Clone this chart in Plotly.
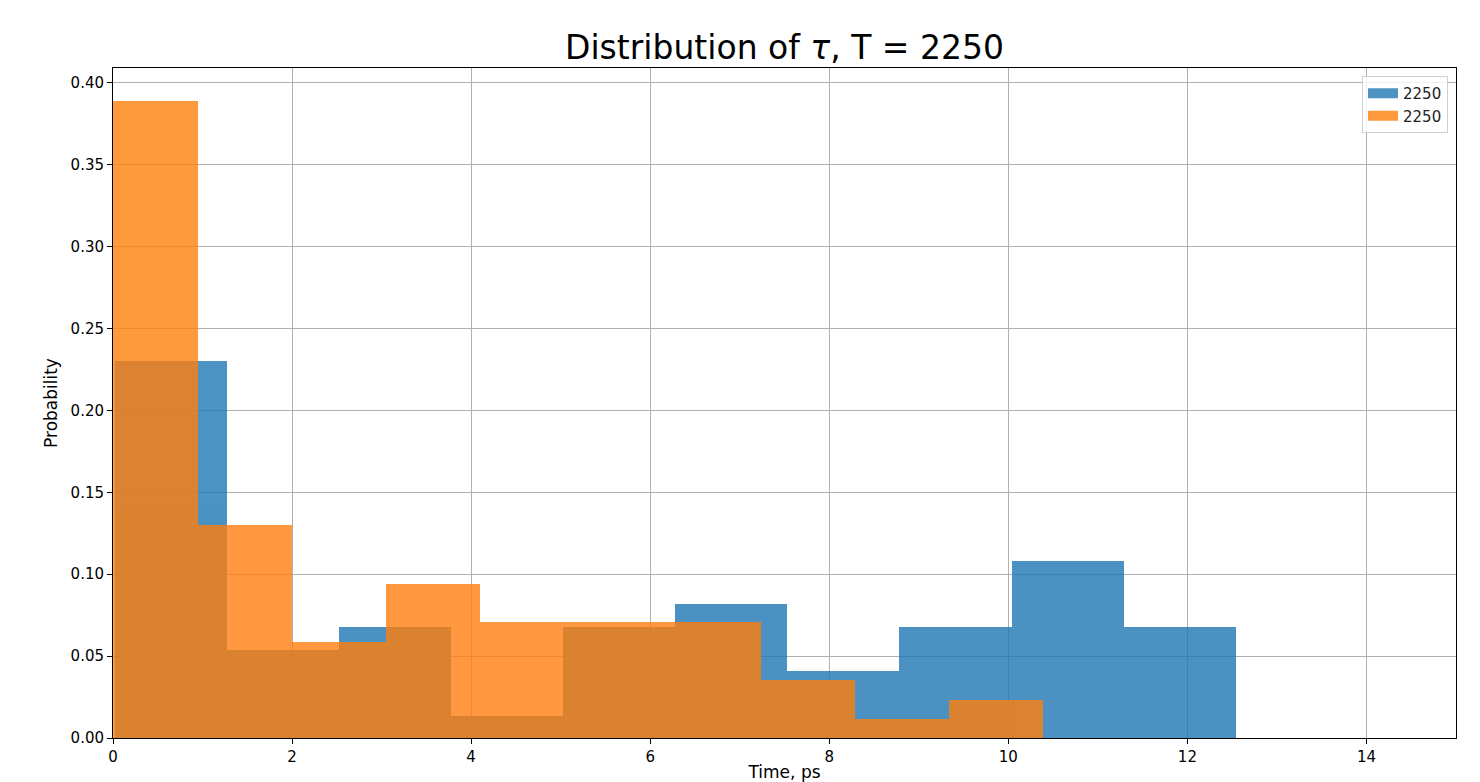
import plotly.graph_objects as go

# Bin edges (ps) and heights (probability density)
blue_edges = [0.02, 1.27, 2.52, 3.78, 5.03, 6.28, 7.53, 8.78, 10.04, 11.29, 12.54]
blue_vals = [0.230, 0.054, 0.068, 0.0136, 0.068, 0.0815, 0.0409, 0.0676, 0.108, 0.0676]

orange_edges = [-0.10, 0.95, 2.00, 3.05, 4.10, 5.15, 6.19, 7.24, 8.29, 9.34, 10.39]
orange_vals = [0.389, 0.130, 0.0587, 0.094, 0.0706, 0.0706, 0.0706, 0.0354, 0.0116, 0.0232]

series_names = ["2250", "2250"]
x_ticks = [0, 2, 4, 6, 8, 10, 12, 14]
y_ticks = [0.0, 0.05, 0.10, 0.15, 0.20, 0.25, 0.30, 0.35, 0.40]

FONT = "DejaVu Sans"
BLUE = "#1f77b4"
ORANGE = "#ff7f0e"

# page body has an 8px margin, so the figure is sized to fit inside the window
W, H = 1472, 774
OFF = 8
PL, PR, PT, PB = 113, 1456, 68, 738  # target plot-area box in window pixels


def centers(edges):
    return [(a + b) / 2 for a, b in zip(edges[:-1], edges[1:])]


def widths(edges):
    return [b - a for a, b in zip(edges[:-1], edges[1:])]


fig = go.Figure()
fig.add_trace(go.Bar(
    x=centers(blue_edges), y=blue_vals, width=widths(blue_edges),
    name=series_names[0], marker=dict(color=BLUE, line=dict(width=0)),
    opacity=0.8, showlegend=False,
))
fig.add_trace(go.Bar(
    x=centers(orange_edges), y=orange_vals, width=widths(orange_edges),
    name=series_names[1], marker=dict(color=ORANGE, line=dict(width=0)),
    opacity=0.8, showlegend=False,
))
# legend-only entries with wide rectangular swatches (matplotlib style)
for name, col in zip(series_names, [BLUE, ORANGE]):
    fig.add_trace(go.Scatter(
        x=[None], y=[None], mode="lines", name=name,
        line=dict(color=col, width=10), opacity=0.8, showlegend=True,
        hoverinfo="skip",
    ))

l = PL - OFF
r = W - (PR - OFF)
t = PT - OFF
b = H - (PB - OFF)
plot_w = PR - PL
plot_h = PB - PT

fig.update_layout(
    width=W, height=H,
    barmode="overlay",
    bargap=0,
    paper_bgcolor="white",
    plot_bgcolor="white",
    font=dict(family=FONT, color="black"),
    margin=dict(l=l, r=r, t=t, b=b, autoexpand=False),
    title=dict(
        text="Distribution of <i>τ</i>, T = 2250",
        x=((PL + PR) / 2 - OFF) / W, xanchor="center", xref="container",
        y=1 - (47 - OFF) / H, yanchor="middle", yref="container",
        font=dict(family=FONT, size=33, color="black"),
    ),
    legend=dict(
        x=1 - 8 / plot_w, y=1 - 8 / plot_h, xanchor="right", yanchor="top",
        bgcolor="rgba(255,255,255,0.8)", bordercolor="#d0d0d0", borderwidth=1,
        font=dict(family=FONT, size=15, color="#222222"),
        tracegroupgap=0,
    ),
    showlegend=True,
)

fig.update_xaxes(
    range=[0, 15.0],
    tickmode="array", tickvals=x_ticks, ticktext=[str(v) for v in x_ticks],
    showgrid=True, gridcolor="#b0b0b0", gridwidth=1,
    showline=True, linecolor="black", linewidth=1, mirror=True,
    ticks="outside", ticklen=5, tickcolor="black",
    tickfont=dict(family=FONT, size=15, color="black"),
    zeroline=False, automargin=False,
    title=dict(text="Time, ps", font=dict(family=FONT, size=17, color="black"), standoff=9),
)
fig.update_yaxes(
    range=[0, 0.409],
    tickmode="array", tickvals=y_ticks, ticktext=[f"{v:.2f}" for v in y_ticks],
    showgrid=True, gridcolor="#b0b0b0", gridwidth=1,
    showline=True, linecolor="black", linewidth=1, mirror=True,
    ticks="outside", ticklen=5, tickcolor="black",
    tickfont=dict(family=FONT, size=15, color="black"),
    zeroline=False, automargin=False,
    title=dict(text="Probability", font=dict(family=FONT, size=17, color="black"), standoff=8),
)

fig.write_html("out.html")
